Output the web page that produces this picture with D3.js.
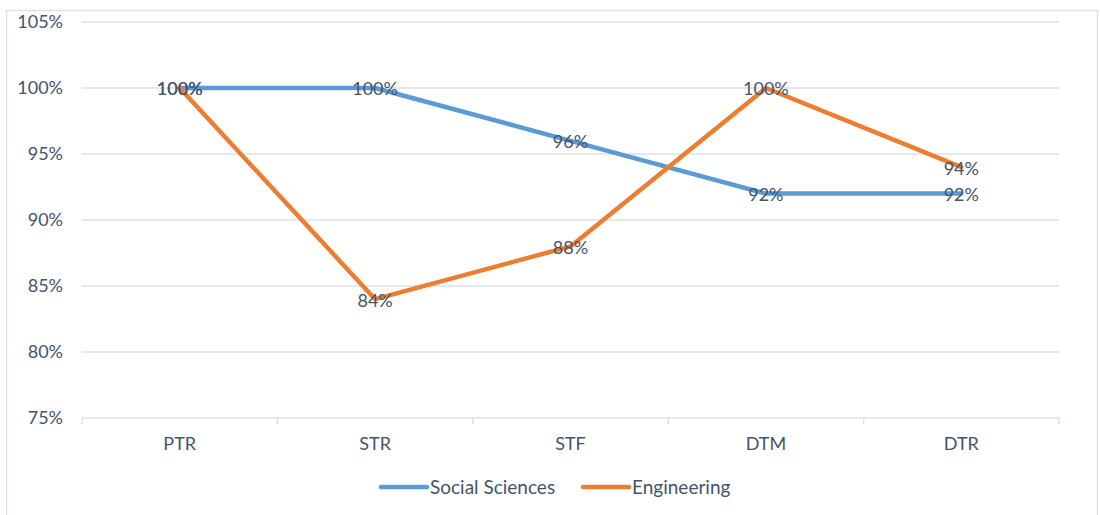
<!DOCTYPE html>
<html>
<head>
<meta charset="utf-8">
<script src="https://cdn.jsdelivr.net/npm/d3@7"></script>
<style>
  body { margin: 0; background: #fff; }
  text { font-family: Lato, "Open Sans", sans-serif; fill: #44546a; }
</style>
</head>
<body>
<div id="chart"></div>
<script>
// chart data
const categories = ['PTR', 'STR', 'STF', 'DTM', 'DTR'];
const socialSciences = [1.00, 1.00, 0.96, 0.92, 0.92];
const engineering = [1.00, 0.84, 0.88, 1.00, 0.94];
const yTicks = [0.75, 0.80, 0.85, 0.90, 0.95, 1.00, 1.05];

const series = [
  { name: 'Social Sciences', values: socialSciences, color: '#5b9bd5' },
  { name: 'Engineering', values: engineering, color: '#ed7d31' },
];

const width = 1100;
const height = 515;
const margin = { top: 22, right: 41, bottom: 97, left: 82 };

const svg = d3
  .select('#chart')
  .append('svg')
  .attr('width', width)
  .attr('height', height);

// outer frame
svg
  .append('rect')
  .attr('x', 6.5)
  .attr('y', 10.5)
  .attr('width', 1091)
  .attr('height', 520)
  .attr('fill', 'none')
  .attr('stroke', '#dde1e7')
  .attr('stroke-width', 1.5);

const innerW = width - margin.left - margin.right;
const innerH = height - margin.top - margin.bottom;

const x = d3.scaleBand().domain(categories).range([0, innerW]);
const y = d3.scaleLinear().domain([0.75, 1.05]).range([innerH, 0]);

const chart = svg
  .append('g')
  .attr('transform', `translate(${margin.left},${margin.top})`);

// gridlines
chart
  .selectAll('.grid')
  .data(yTicks)
  .join('line')
  .attr('class', 'grid')
  .attr('x1', 0)
  .attr('x2', innerW)
  .attr('y1', (d) => y(d))
  .attr('y2', (d) => y(d))
  .attr('stroke', '#dde1e7')
  .attr('stroke-width', 1.5);

// y labels
chart
  .selectAll('.ylab')
  .data(yTicks)
  .join('text')
  .attr('class', 'ylab')
  .attr('x', -19)
  .attr('y', (d) => y(d))
  .attr('dy', '0.36em')
  .attr('text-anchor', 'end')
  .style('font-size', '18px')
  .text((d) => d3.format('.0%')(d));

// category tick marks
const bounds = categories.map((c) => x(c)).concat([innerW]);
chart
  .selectAll('.xtick')
  .data(bounds)
  .join('line')
  .attr('class', 'xtick')
  .attr('x1', (d) => d)
  .attr('x2', (d) => d)
  .attr('y1', innerH)
  .attr('y2', innerH + 6)
  .attr('stroke', '#dde1e7')
  .attr('stroke-width', 1.5);

chart
  .selectAll('.xlab')
  .data(categories)
  .join('text')
  .attr('class', 'xlab')
  .attr('x', (d) => x(d) + x.bandwidth() / 2)
  .attr('y', innerH + 26)
  .attr('dy', '0.36em')
  .attr('text-anchor', 'middle')
  .style('font-size', '18px')
  .text((d) => d);

const line = d3
  .line()
  .x((d, i) => x(categories[i]) + x.bandwidth() / 2)
  .y((d) => y(d));

chart
  .selectAll('.series')
  .data(series)
  .join('path')
  .attr('class', 'series')
  .attr('d', (d) => line(d.values))
  .attr('fill', 'none')
  .attr('stroke', (d) => d.color)
  .attr('stroke-width', 4.5)
  .attr('stroke-linejoin', 'round')
  .attr('stroke-linecap', 'round');

// data labels
series.forEach((s) => {
  chart
    .append('g')
    .selectAll('text')
    .data(s.values)
    .join('text')
    .attr('x', (d, i) => x(categories[i]) + x.bandwidth() / 2)
    .attr('y', (d) => y(d) + 1)
    .attr('dy', '0.36em')
    .attr('text-anchor', 'middle')
    .style('font-size', '18px')
    .text((d) => d3.format('.0%')(d));
});

// legend
const legend = svg.append('g').attr('transform', 'translate(380,487)');
const legendX = [0, 202];
series.forEach((s, i) => {
  const g = legend.append('g').attr('transform', `translate(${legendX[i]},0)`);
  g.append('line')
    .attr('x1', 1)
    .attr('x2', 47)
    .attr('stroke', s.color)
    .attr('stroke-width', 4.5)
    .attr('stroke-linecap', 'round');
  g.append('text')
    .attr('x', 50)
    .attr('dy', '0.36em')
    .style('font-size', '19px')
    .text(s.name);
});
</script>
</body>
</html>
